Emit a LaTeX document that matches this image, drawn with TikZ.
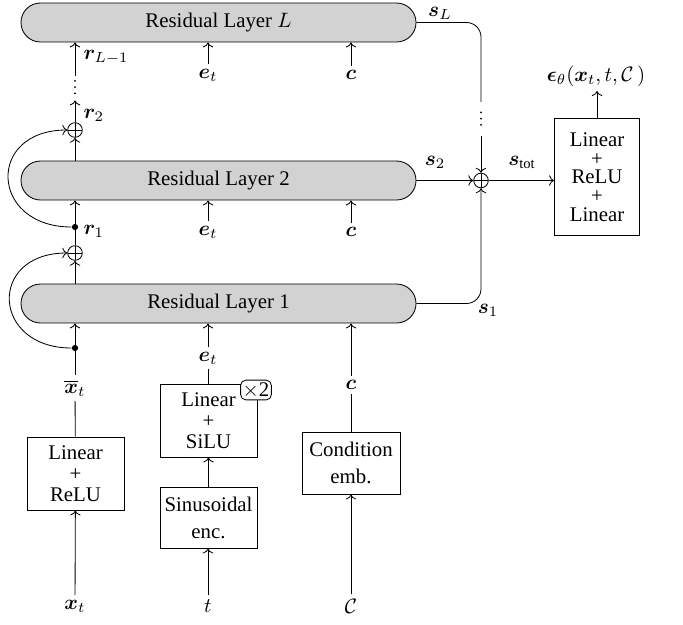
\documentclass[tikz,border=0pt]{standalone}
\usepackage{amsmath}
\usepackage{bm}
\usepackage{fontspec}
\setmainfont{Liberation Serif}
\usetikzlibrary{arrows.meta}

\begin{document}
\begin{tikzpicture}[x=0.48pt,y=-0.48pt,
  >={Computer Modern Rightarrow[length=2.4pt,width=5pt]},
  layer/.style={draw, fill=gray!35, rounded corners=9.3pt, minimum width=189.6pt,
    minimum height=18.7pt, inner sep=0pt},
  block/.style={draw, align=center, inner sep=0pt, font=\fontsize{10}{13}\selectfont},
  plusblock/.style={block, font=\fontsize{10}{10}\selectfont},
  adder/.style={circle, draw, inner sep=0pt, minimum size=7pt,
    path picture={\draw (path picture bounding box.north) -- (path picture bounding box.south)
      (path picture bounding box.west) -- (path picture bounding box.east);}},
  joint/.style={circle, fill, inner sep=0pt, minimum size=3pt},
  lbl/.style={inner sep=2pt},
  gapnode/.style={inner sep=0pt, minimum width=0pt},
  dotcol/.style={line width=1pt, line cap=round, dash pattern=on 0pt off 3pt}
]
\useasboundingbox (0,0) rectangle (683,624);

% residual layers
\node[layer] (rlL) at (218.5,22.5) {Residual Layer $L$};
\node[layer] (rl2) at (218.5,180.5) {Residual Layer 2};
\node[layer] (rl1) at (218.5,303.5) {Residual Layer 1};

% input blocks
\node[plusblock, minimum width=46.6pt, minimum height=35pt] (mlpx) at (75.5,473.5) {Linear\\+\\ReLU};
\node[plusblock, minimum width=46.6pt, minimum height=35pt] (mlpt) at (208.5,420.5) {Linear\\+\\SiLU};
\node[block, minimum width=46.6pt, minimum height=29.3pt] (sinenc) at (208.5,517.5) {Sinusoidal\\enc.};
\node[block, minimum width=47pt, minimum height=29.8pt] (condemb) at (351,463) {Condition\\emb.};
\node[draw, fill=white, rounded corners=2.5pt, inner sep=1pt] (rep) at (256,390) {$\times$2};

% output head
\node[block, minimum width=40.8pt, minimum height=56.2pt, font=\fontsize{10}{9}\selectfont] (head) at (597,177)
  {Linear\\+\\ReLU\\+\\Linear};

% inputs and embeddings
\node[lbl] (xin) at (75,606) {$\bm{x}_t$};
\node[lbl] (tin) at (208,606) {$t$};
\node[lbl] (cin) at (351,606) {$\mathcal{C}$};
\node[lbl] (xbar) at (75,388) {$\overline{\bm{x}}_t$};
\node[lbl] (et1) at (208,358) {$\bm{e}_t$};
\node[lbl] (c1) at (351,385) {$\bm{c}$};
\node[lbl] (et2) at (208,232) {$\bm{e}_t$};
\node[lbl] (c2) at (351,232) {$\bm{c}$};
\node[lbl] (etL) at (208,75) {$\bm{e}_t$};
\node[lbl] (cL) at (351,75) {$\bm{c}$};

\draw[->] (xin) -- (mlpx);
\draw (mlpx) -- (xbar);
\draw[->] (tin) -- (sinenc.south -| tin);
\draw[->] (sinenc) -- (mlpt);
\draw (mlpt.north -| et1) -- (et1);
\draw[->] (cin) -- (condemb);
\draw (condemb) -- (c1);

\draw[->] (et1) -- (rl1.south -| et1);
\draw[->] (c1) -- (rl1.south -| c1);
\draw[->] (et2) -- (rl2.south -| et2);
\draw[->] (c2) -- (rl2.south -| c2);
\draw[->] (etL) -- (rlL.south -| etL);
\draw[->] (cL) -- (rlL.south -| cL);

% residual stream
\node[joint] (j1) at (75,348) {};
\node[joint] (j2) at (75,227) {};
\node[adder] (a1) at (75,253) {};
\node[adder] (a2) at (75,130) {};
\node[gapnode, minimum height=11.5pt] (vdL) at (75,88) {};

\draw[->] (xbar) -- (rl1.south -| xbar);
\draw[->] (rl1.north -| a1) -- (a1);
\draw[->] (a1) -- (rl2.south -| a1);
\draw[->] (rl2.north -| a2) -- (a2);
\draw[->] (a2) -- (vdL);
\draw[->] (vdL) -- (rlL.south -| vdL);
\draw[dotcol] ([yshift=-2.5pt]vdL.north) -- ([yshift=2.5pt]vdL.south);

\draw[->] (j1) to[out=180, in=180, looseness=2.15] (a1);
\draw[->] (j2) to[out=180, in=180, looseness=2.15] (a2);

\node[lbl, anchor=west] (rLm) at (79,57) {$\bm{r}_{L-1}$};
\node[lbl, anchor=west] (r2) at (79,115) {$\bm{r}_2$};
\node[lbl, anchor=west] (r1) at (79,231) {$\bm{r}_1$};

% skip sum
\node[adder] (a3) at (481,180.5) {};
\node[gapnode, minimum height=16pt] (vdR) at (481,119) {};
\draw[->] (rl2) -- (a3);
\draw[rounded corners=7pt] (rlL) -| (vdR);
\draw[->] (vdR) -- (a3);
\draw[dotcol] ([yshift=-5pt]vdR.north) -- ([yshift=5pt]vdR.south);
\draw[->, rounded corners=7pt] (rl1) -| (a3);
\draw[->] (a3) -- (a3 -| head.west);

\node[lbl] (eps) at (596,76) {$\bm{\epsilon}_\theta(\bm{x}_t, t, \mathcal{C}\,)$};
\draw[->] (head.north) -- (head.north |- eps.south);

\node[lbl] (sL) at (440,13) {$\bm{s}_L$};
\node[lbl] (s2) at (435,162) {$\bm{s}_2$};
\node[lbl] (s1) at (488,310) {$\bm{s}_1$};
\node[lbl] (stot) at (522,162) {$\bm{s}_{\mathrm{tot}}$};
\end{tikzpicture}
\end{document}
